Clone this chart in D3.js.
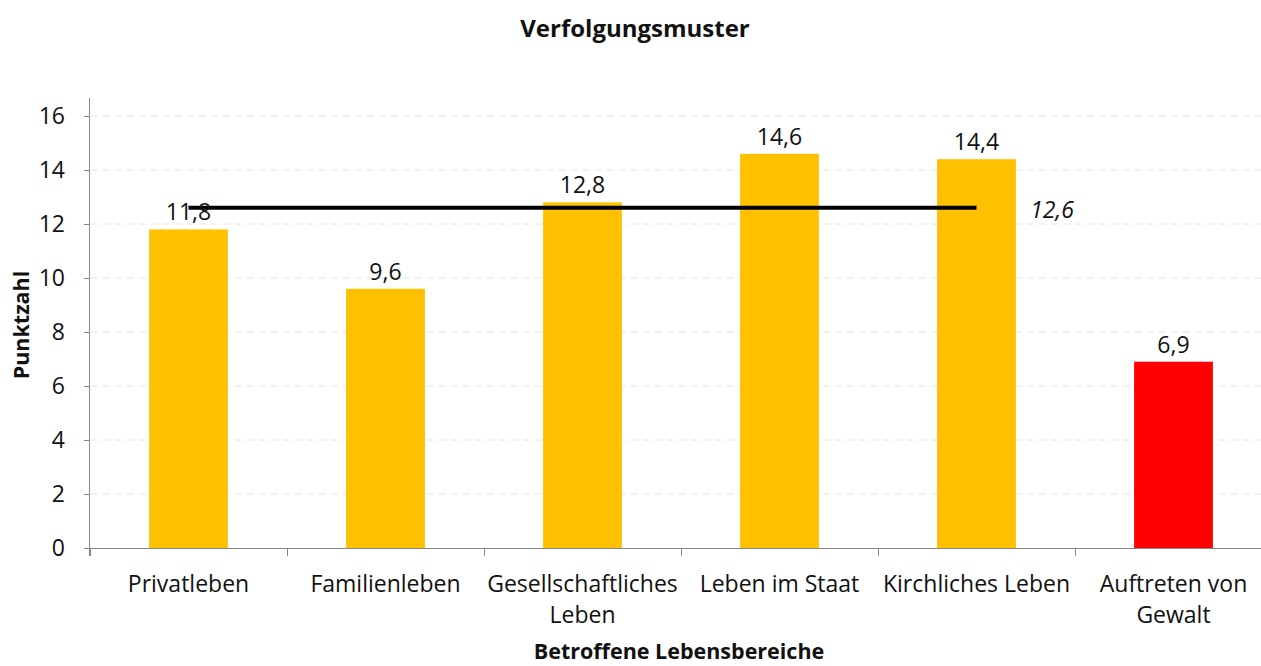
<!DOCTYPE html>
<html>
<head>
<meta charset="utf-8">
<script src="https://cdn.jsdelivr.net/npm/d3@7/dist/d3.min.js"></script>
<style>
  body { margin: 0; background: #fff; }
  svg text { font-family: "Open Sans", "Lato", sans-serif; fill: #111; }
</style>
</head>
<body>
<svg id="chart" width="1261" height="666"></svg>
<script>
// Betroffene Lebensbereiche und Punktzahlen
const categories = [
  ["Privatleben"],
  ["Familienleben"],
  ["Gesellschaftliches", "Leben"],
  ["Leben im Staat"],
  ["Kirchliches Leben"],
  ["Auftreten von", "Gewalt"]
];
const values = [11.8, 9.6, 12.8, 14.6, 14.4, 6.9];
const barColors = ["#ffc000", "#ffc000", "#ffc000", "#ffc000", "#ffc000", "#ff0000"];
const meanValue = 12.6;          // Mittelwert der ersten fünf Bereiche
const meanSpan = [0, 4];         // Linie von Kategorie 1 bis Kategorie 5
const yTicks = [0, 2, 4, 6, 8, 10, 12, 14, 16];

const fmt = v => String(v).replace(".", ",");

const svg = d3.select("#chart");
const plotLeft = 90, plotTop = 116, plotBottom = 548;
const bandW = 197;
const keys = categories.map((_, i) => i);
const labelSize = 23;

const x = d3.scaleBand()
  .domain(keys)
  .range([plotLeft, plotLeft + bandW * keys.length])
  .paddingInner(0.6)
  .paddingOuter(0.3);

const y = d3.scaleLinear().domain([0, 16]).range([plotBottom, plotTop]);

// Gitternetzlinien
svg.append("g")
  .selectAll("line")
  .data(yTicks.filter(t => t > 0))
  .join("line")
  .attr("x1", plotLeft + 1)
  .attr("x2", 1261)
  .attr("y1", d => y(d))
  .attr("y2", d => y(d))
  .attr("stroke", "#e4e4e4")
  .attr("stroke-width", 1)
  .attr("stroke-dasharray", "7,5");

// Balken
svg.append("g")
  .selectAll("rect")
  .data(values)
  .join("rect")
  .attr("x", (d, i) => x(i))
  .attr("y", d => y(d))
  .attr("width", x.bandwidth())
  .attr("height", d => plotBottom - y(d))
  .attr("fill", (d, i) => barColors[i]);

// Mittelwertlinie
svg.append("line")
  .attr("x1", x(meanSpan[0]) + x.bandwidth() / 2)
  .attr("x2", x(meanSpan[1]) + x.bandwidth() / 2)
  .attr("y1", y(meanValue))
  .attr("y2", y(meanValue))
  .attr("stroke", "#000")
  .attr("stroke-width", 4);

svg.append("text")
  .attr("x", 1052)
  .attr("y", y(meanValue) + 10)
  .attr("text-anchor", "middle")
  .attr("font-size", labelSize)
  .attr("font-style", "italic")
  .text(fmt(meanValue));

// Wertbeschriftungen
svg.append("g")
  .selectAll("text")
  .data(values)
  .join("text")
  .attr("x", (d, i) => x(i) + x.bandwidth() / 2)
  .attr("y", d => y(d) - 9)
  .attr("text-anchor", "middle")
  .attr("font-size", labelSize)
  .text(d => fmt(d));

// Y-Achse
const yAxis = svg.append("g")
  .attr("transform", `translate(${plotLeft},0)`)
  .call(d3.axisLeft(y).tickValues(yTicks).tickSize(6).tickPadding(19).tickFormat(d => d));
yAxis.select(".domain").attr("stroke", "#888").attr("d", `M-0.5,${plotTop - 18}V${plotBottom + 8}`);
yAxis.selectAll(".tick line").attr("stroke", "#888");
yAxis.selectAll(".tick text").attr("font-size", labelSize).attr("fill", "#111")
  .style("font-family", "'Open Sans', Lato, sans-serif");

// X-Achse
const xAxisG = svg.append("g");
xAxisG.append("line")
  .attr("x1", plotLeft - 6).attr("x2", 1261)
  .attr("y1", plotBottom + 0.5).attr("y2", plotBottom + 0.5)
  .attr("stroke", "#888");
xAxisG.selectAll("line.sep")
  .data(d3.range(keys.length + 1))
  .join("line")
  .attr("class", "sep")
  .attr("x1", i => plotLeft + i * bandW + 0.5)
  .attr("x2", i => plotLeft + i * bandW + 0.5)
  .attr("y1", plotBottom)
  .attr("y2", plotBottom + 8)
  .attr("stroke", "#888");

const labels = xAxisG.selectAll("text.cat")
  .data(categories)
  .join("text")
  .attr("class", "cat")
  .attr("text-anchor", "middle")
  .attr("font-size", labelSize)
  .attr("x", (d, i) => x(i) + x.bandwidth() / 2)
  .attr("y", 592);
labels.selectAll("tspan")
  .data(d => d)
  .join("tspan")
  .attr("x", function () { return d3.select(this.parentNode).attr("x"); })
  .attr("dy", (d, i) => i === 0 ? 0 : 31)
  .text(d => d);

// Titel
svg.append("text")
  .attr("x", 635).attr("y", 37)
  .attr("text-anchor", "middle")
  .attr("font-size", 24)
  .attr("font-weight", "bold")
  .text("Verfolgungsmuster");

svg.append("text")
  .attr("x", 679).attr("y", 659)
  .attr("text-anchor", "middle")
  .attr("font-size", 21.5)
  .attr("font-weight", "bold")
  .text("Betroffene Lebensbereiche");

svg.append("text")
  .attr("transform", `translate(29,${(plotTop + plotBottom) / 2 - 7}) rotate(-90)`)
  .attr("text-anchor", "middle")
  .attr("font-size", 21.5)
  .attr("font-weight", "bold")
  .text("Punktzahl");
</script>
</body>
</html>
